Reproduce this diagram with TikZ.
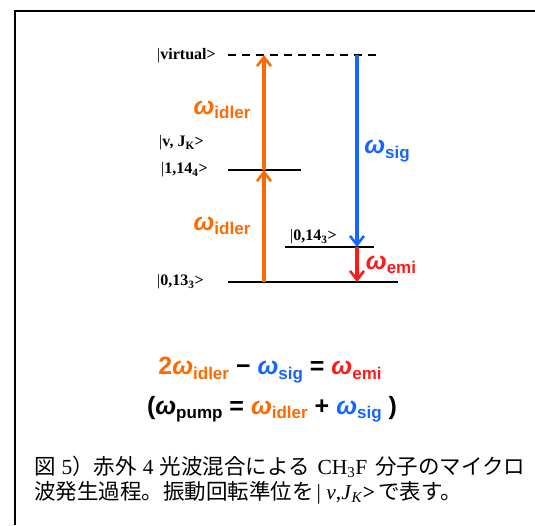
\documentclass[tikz,border=0pt]{standalone}
\usepackage{fontspec}
\setmainfont{Liberation Serif}
\newfontfamily\sans{Liberation Sans}
\newfontfamily\jp{Noto Sans CJK JP}
\usetikzlibrary{arrows.meta,positioning}
\definecolor{orng}{HTML}{FF6A00}
\definecolor{blu}{HTML}{1466FF}
\definecolor{rd}{HTML}{FF1A1A}
\newcommand{\wsub}[1]{{\fontsize{25}{25}\sans\bfseries\itshape ω}\raisebox{-4.5pt}{\fontsize{17}{17}\sans\bfseries #1}}
\newcommand{\ket}[1]{{\mdseries|}#1>}
\tikzset{
  level/.style={line width=1.5pt, black},
  vlevel/.style={line width=1.5pt, black, dash pattern=on 8pt off 6pt},
  statelbl/.style={font=\fontsize{16}{16}\selectfont\bfseries, inner sep=0pt, anchor=west},
  wlbl/.style={inner sep=0pt},
  eqn/.style={font=\fontsize{25}{25}\sans\bfseries, inner sep=0pt},
  oarr/.style={-{Straight Barb[length=9pt,width=14pt,line width=2.6pt]}, line width=3.2pt, color=orng},
  barr/.style={-{Straight Barb[length=9pt,width=14pt,line width=2.6pt]}, line width=3.2pt, color=blu},
  rarr/.style={-{Straight Barb[length=9pt,width=14pt,line width=2.6pt]}, line width=3.2pt, color=rd}}

\begin{document}
\begin{tikzpicture}[x=1pt, y=-1pt]
  \useasboundingbox (0,0) rectangle (535,525);
  % frame
  \draw[line width=1.5pt] (15,525) -- (15,11) -- (535,11);

  % levels
  \coordinate (virtL) at (228,55);
  \coordinate (virtR) at (376,55);
  \coordinate (upL) at (228,170);
  \coordinate (upR) at (301,170);
  \coordinate (midL) at (285,247);
  \coordinate (midR) at (374,247);
  \coordinate (lowL) at (228,282);
  \coordinate (lowR) at (398,282);
  \draw[vlevel] (virtL) -- (virtR);
  \draw[level] (upL) -- (upR);
  \draw[level] (midL) -- (midR);
  \draw[level] (lowL) -- (lowR);

  % state labels
  \node[statelbl] (virtlbl) at (157,56) {\ket{virtual}};
  \node[statelbl] (vjlbl) at (159,143) {\ket{v, J\textsubscript{K}}};
  \node[statelbl] (uplbl) at (161,170) {\ket{1,14\textsubscript{4}}};
  \node[statelbl] (midlbl) at (290,237) {\ket{0,14\textsubscript{3}}};
  \node[statelbl] (lowlbl) at (157,282) {\ket{0,13\textsubscript{3}}};

  % transitions
  \coordinate (i0) at (264,282);
  \coordinate (i1) at (264,170);
  \coordinate (i2) at (264,55);
  \coordinate (s0) at (357,55);
  \coordinate (s1) at (357,247);
  \coordinate (s2) at (357,282);
  \draw[oarr] (i0) -- (i1);
  \draw[oarr] (i1) -- (i2);
  \draw[barr] (s0) -- (s1);
  \draw[rarr] (s1) -- (s2);

  \node[wlbl, text=orng] (idlerA) at (222,110) {\wsub{idler}};
  \node[wlbl, text=orng] (idlerB) at (222,226) {\wsub{idler}};
  \node[wlbl, text=blu] (sig) at (387,151) {\wsub{sig}};
  \node[wlbl, text=rd] (emi) at (391,265) {\wsub{emi}};

  % relations
  \node[eqn] (eqA) at (270,370)
    {\textcolor{orng}{2\wsub{idler}} − \textcolor{blu}{\wsub{sig}} = \textcolor{rd}{\wsub{emi}}};
  \node[eqn] (eqB) at (272,409)
    {(\wsub{pump} = \textcolor{orng}{\wsub{idler}} + \textcolor{blu}{\wsub{sig}} )};

  % caption
  \node[anchor=west, inner sep=0pt, align=left, font=\fontsize{21.5}{25.5}\selectfont] (cap) at (34,480)
    {{\jp 図}\hspace{6pt}5{\jp ）赤外}\hspace{6pt}4\hspace{6pt}{\jp 光波混合による}\hspace{8pt}CH\textsubscript{3}F\hspace{8pt}{\jp 分子のマイクロ}\\
     {\jp 波発生過程。振動回転準位を}\hspace{3pt}| \textit{v},\textit{J}\textsubscript{\textit{K}}\textbf{>}\hspace{3pt}{\jp で表す。}};
\end{tikzpicture}
\end{document}
